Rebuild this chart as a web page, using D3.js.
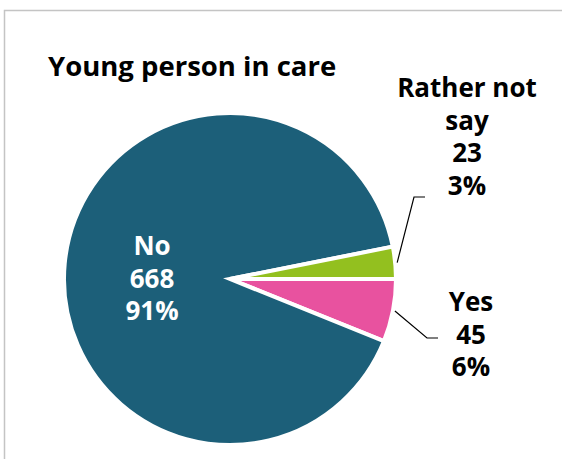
<!DOCTYPE html>
<html><head><meta charset="utf-8">
<script src="https://cdn.jsdelivr.net/npm/d3@7"></script>
<style>html,body{margin:0;padding:0;background:#fff;overflow:hidden}</style>
</head><body>
<svg id="chart" width="562" height="459"></svg>
<script>
// ---- data ----
const title = "Young person in care";
const categories = ["Yes", "No", "Rather not say"];
const counts = [45, 668, 23];
const colors = ["#e8529f", "#1c5f79", "#93c01f"];

// ---- layout ----
const W = 562, H = 459;
const cx = 230, cy = 279, R = 166;
const font = "'Open Sans', Lato, sans-serif";

const svg = d3.select("#chart");
svg.append("rect").attr("x", 4.5).attr("y", 10.5).attr("width", 600).attr("height", 500)
  .attr("fill", "#fff").attr("stroke", "#c4c4c4").attr("stroke-width", 1.5);

svg.append("text").attr("x", 48).attr("y", 76).attr("font-family", font)
  .attr("font-weight", 700).attr("font-size", 27.5).attr("fill", "#000").text(title);

const data = categories.map((c, i) => ({cat: c, value: counts[i], color: colors[i]}));
const total = d3.sum(counts);
const pct = d3.format(".0%");

const pie = d3.pie().sort(null).value(d => d.value)
  .startAngle(Math.PI / 2).endAngle(Math.PI / 2 + 2 * Math.PI);
const arcs = pie(data);
const arc = d3.arc().innerRadius(0).outerRadius(R);

const g = svg.append("g").attr("transform", `translate(${cx},${cy})`);
g.selectAll("path").data(arcs).join("path")
  .attr("d", arc).attr("fill", d => d.data.color)
  .attr("stroke", "#fff").attr("stroke-width", 4).attr("stroke-linejoin", "miter");

function lines(d) { return [d.data.cat === "Rather not say" ? "Rather not" : d.data.cat]
  .concat(d.data.cat === "Rather not say" ? ["say"] : [])
  .concat([String(d.data.value), pct(d.data.value / total)]); }

// label placement (layout constants)
const labelPos = {
  "No": {x: 152, y: 255, color: "#fff", leader: null},
  "Rather not say": {x: 467, y: 97, color: "#000", leader: {elbow: [414, 197], end: [425, 197]}},
  "Yes": {x: 471, y: 311, color: "#000", leader: {elbow: [427, 338], end: [438, 338]}}
};
const lineH = 32.5;
const edge = d3.arc().innerRadius(R + 2).outerRadius(R + 2);

arcs.forEach(d => {
  const p = labelPos[d.data.cat];
  const t = svg.append("text").attr("font-family", font).attr("font-weight", 700)
    .attr("font-size", 26).attr("fill", p.color).attr("text-anchor", "middle");
  lines(d).forEach((s, i) => t.append("tspan").attr("x", p.x).attr("y", p.y + i * lineH).text(s));
  if (p.leader) {
    const [sx, sy] = edge.centroid(d);
    svg.append("polyline")
      .attr("points", [[cx + sx, cy + sy], p.leader.elbow, p.leader.end].map(q => q.join(",")).join(" "))
      .attr("fill", "none").attr("stroke", "#000").attr("stroke-width", 1.2);
  }
});
</script>
</body></html>
